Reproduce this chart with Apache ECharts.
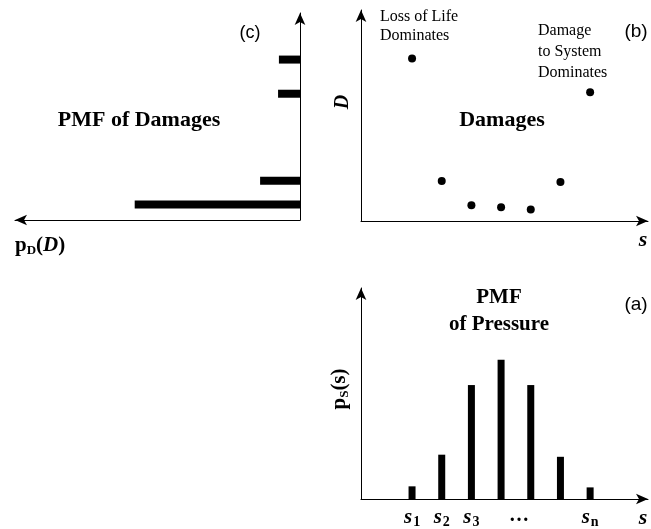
<!DOCTYPE html>
<html>
<head>
<meta charset="utf-8">
<script src="https://cdn.jsdelivr.net/npm/echarts@6/dist/echarts.min.js"></script>
<style>
  html, body { margin: 0; padding: 0; background: #fff; }
  #chart { width: 651px; height: 529px; }
</style>
</head>
<body>
<div id="chart"></div>
<script>
// pressure levels s1..sn (shared by panels a and b)
const sPos = [1, 2, 3, 4, 5, 6, 7];
// (a) PMF of pressure
const pressurePmf = [0.06, 0.21, 0.54, 0.66, 0.54, 0.2, 0.055];
// (b) damage for each pressure level
const damage = [77, 19, 7.5, 6.5, 5.5, 18.5, 61];
// (c) PMF of damages
const damageLevels = [77.5, 61, 19, 7.5];
const damagePmf = [0.074, 0.077, 0.14, 0.58];
// tick labels under panel (a)
const sTickPos = [1, 2, 3, 4.6, 7];
const sTickLabels = ["s1", "s2", "s3", "…", "sn"];

const SERIF = "Liberation Serif";
const SANS = "Liberation Sans";
const sMin = -0.72;
const sMax = 8.95;

const chart = echarts.init(document.getElementById("chart"), null, { renderer: "canvas" });

const arrowLine = (symbol = ["none", "arrow"]) => ({
  show: true,
  onZero: false,
  symbol,
  symbolSize: [8, 12],
  lineStyle: { color: "#000", width: 1 },
});

const hidden = {
  axisTick: { show: false },
  axisLabel: { show: false },
  splitLine: { show: false },
};

const subRich = {
  s: { fontFamily: SERIF, fontStyle: "italic", fontWeight: "bold", fontSize: 21, color: "#000" },
  sub: { fontFamily: SERIF, fontWeight: "bold", fontSize: 14, color: "#000", padding: [9, 0, 0, 1] },
  dots: { fontFamily: SERIF, fontWeight: "bold", fontSize: 20, color: "#000" },
};

const text = (x, y, str, style) => ({
  type: "text",
  x,
  y,
  style: Object.assign({ text: str, fill: "#000", align: "center", verticalAlign: "middle" }, style),
});

chart.setOption({
  animation: false,
  grid: [
    { left: 15, top: 13, width: 285, height: 207 }, // (c)
    { left: 361, top: 10, width: 287, height: 211 }, // (b)
    { left: 361, top: 288, width: 287, height: 212 }, // (a)
  ],
  xAxis: [
    { gridIndex: 0, type: "value", inverse: true, min: 0, max: 1, axisLine: arrowLine(["arrow", "none"]), ...hidden },
    { gridIndex: 1, type: "value", min: sMin, max: sMax, axisLine: arrowLine(), ...hidden },
    {
      gridIndex: 2,
      type: "value",
      min: sMin,
      max: sMax,
      axisLine: arrowLine(),
      axisTick: { show: false },
      splitLine: { show: false },
      axisLabel: {
        show: true,
        customValues: sTickPos,
        margin: 7,
        formatter: (v) => {
          const lab = sTickLabels[sTickPos.indexOf(v)];
          if (lab === "…") return "{dots|…}";
          return "{s|" + lab[0] + "}{sub|" + lab.slice(1) + "}";
        },
        rich: subRich,
      },
    },
  ],
  yAxis: [
    { gridIndex: 0, type: "value", position: "right", min: 0, max: 100, axisLine: arrowLine(), ...hidden },
    { gridIndex: 1, type: "value", min: 0, max: 100, axisLine: arrowLine(), ...hidden },
    { gridIndex: 2, type: "value", min: 0, max: 1, axisLine: arrowLine(), ...hidden },
  ],
  series: [
    {
      type: "custom",
      xAxisIndex: 0,
      yAxisIndex: 0,
      data: damagePmf.map((p, i) => [p, damageLevels[i]]),
      renderItem: (params, api) => {
        const end = api.coord([api.value(0), api.value(1)]);
        const start = api.coord([0, api.value(1)]);
        const h = 8;
        return {
          type: "rect",
          shape: { x: end[0], y: end[1] - h / 2, width: start[0] - end[0], height: h },
          style: { fill: "#000" },
        };
      },
    },
    {
      type: "scatter",
      xAxisIndex: 1,
      yAxisIndex: 1,
      symbolSize: 8,
      itemStyle: { color: "#000", opacity: 1 },
      data: sPos.map((s, i) => [s, damage[i]]),
    },
    {
      type: "bar",
      xAxisIndex: 2,
      yAxisIndex: 2,
      barWidth: 7,
      itemStyle: { color: "#000" },
      data: sPos.map((s, i) => [s, pressurePmf[i]]),
    },
  ],
  graphic: [
    // panel (c)
    text(250, 33, "(c)", { fontFamily: SANS, fontSize: 18 }),
    text(139, 120, "PMF of Damages", { fontFamily: SERIF, fontWeight: "bold", fontSize: 22 }),
    text(15, 246, "{p|p}{sub|D}{p|(}{pi|D}{p|)}", {
      align: "left",
      rich: {
        p: { fontFamily: SERIF, fontWeight: "bold", fontSize: 21, color: "#000" },
        pi: { fontFamily: SERIF, fontWeight: "bold", fontStyle: "italic", fontSize: 21, color: "#000" },
        sub: { fontFamily: SERIF, fontWeight: "bold", fontSize: 13, color: "#000", padding: [9, 0, 0, 0] },
      },
    }),
    // panel (b)
    text(380, 7, "Loss of Life\nDominates", {
      align: "left", verticalAlign: "top", fontFamily: SERIF, fontSize: 16, lineHeight: 19,
    }),
    text(538, 20, "Damage\nto System\nDominates", {
      align: "left", verticalAlign: "top", fontFamily: SERIF, fontSize: 16, lineHeight: 21,
    }),
    text(636, 32, "(b)", { fontFamily: SANS, fontSize: 19 }),
    text(502, 120, "Damages", { fontFamily: SERIF, fontWeight: "bold", fontSize: 22 }),
    Object.assign(text(343, 102, "D", {
      fontFamily: SERIF, fontWeight: "bold", fontStyle: "italic", fontSize: 20,
    }), { rotation: Math.PI / 2 }),
    text(643, 240, "s", { fontFamily: SERIF, fontWeight: "bold", fontStyle: "italic", fontSize: 22 }),
    // panel (a)
    text(499, 298, "PMF", { fontFamily: SERIF, fontWeight: "bold", fontSize: 21 }),
    text(499, 325, "of Pressure", { fontFamily: SERIF, fontWeight: "bold", fontSize: 21 }),
    text(636, 305, "(a)", { fontFamily: SANS, fontSize: 19 }),
    Object.assign(text(340, 389, "{p|p}{sub|S}{p|(s)}", {
      rich: {
        p: { fontFamily: SERIF, fontWeight: "bold", fontSize: 21, color: "#000" },
        sub: { fontFamily: SERIF, fontWeight: "bold", fontSize: 13, color: "#000", padding: [9, 0, 0, 0] },
      },
    }), { rotation: Math.PI / 2 }),
    text(643, 518, "s", { fontFamily: SERIF, fontWeight: "bold", fontStyle: "italic", fontSize: 22 }),
  ],
});
</script>
</body>
</html>
